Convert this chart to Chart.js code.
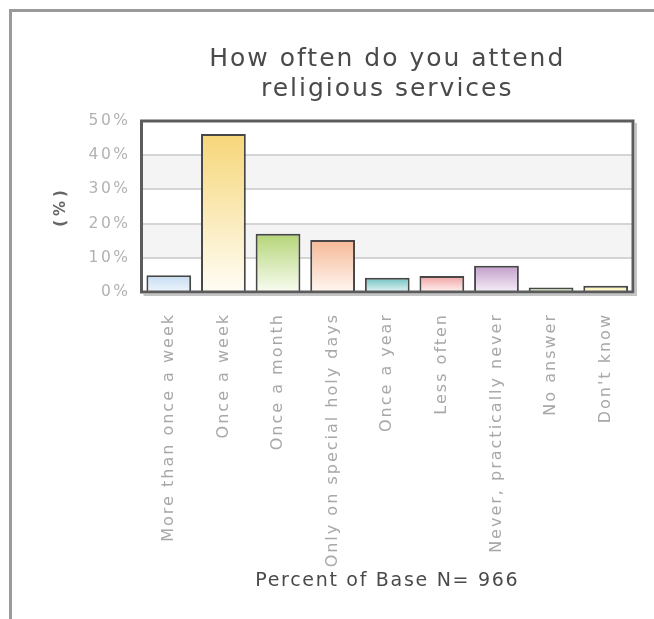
<!DOCTYPE html>
<html>
<head>
<meta charset="utf-8">
<script src="https://cdn.jsdelivr.net/npm/chart.js@4.4.1/dist/chart.umd.min.js"></script>
<style>
  html, body { margin: 0; padding: 0; background: #fff; overflow: hidden; }
  #frame { position: absolute; left: 9px; top: 9px; width: 700px; height: 700px;
           border-top: 3px solid #9a9a9a; border-left: 3px solid #9a9a9a; }
  #wrap { position: absolute; left: 0; top: 0; width: 654px; height: 619px; }
</style>
</head>
<body>
<div id="frame"></div>
<div id="wrap"><canvas id="c" width="654" height="619"></canvas></div>
<script>
const titleLines = ["How often do you attend", "religious services"];
const caption = "Percent of Base N= 966";
const yAxisTitle = "(%)";
const categories = [
  "More than once a week", "Once a week", "Once a month", "Only on special holy days",
  "Once a year", "Less often", "Never, practically never", "No answer", "Don't know"
];
const values = [4.9, 46.2, 17.0, 15.2, 4.2, 4.7, 7.7, 1.3, 1.8];
const yTicks = [0, 10, 20, 30, 40, 50];
const topColors = ["#c4dcf2", "#f6d678", "#b4d576", "#f6b996", "#6ec0c0", "#f0a0a0", "#c39ccb", "#a8c898", "#f7efa0"];
const bottomColors = ["#eef5fc", "#fffdf5", "#f9fcf2", "#fff6f1", "#e4f4f4", "#fff2f2", "#f5eff7", "#dbe9cf", "#fffbe4"];

const canvas = document.getElementById('c');
const ctx = canvas.getContext('2d');
// letter spacing per font (the reference uses widely spaced glyphs)
const origFill = ctx.fillText.bind(ctx);
ctx.fillText = function(t, x, y, mw) {
  const f = ctx.font;
  let ls = '0px';
  if (f.indexOf('bold') >= 0 && f.indexOf('15px') >= 0) ls = '4px';
  else if (f.indexOf('25px') >= 0) ls = '2px';
  else if (f.indexOf('19px') >= 0) ls = '1.7px';
  else if (f.indexOf('16px') >= 0) ls = '2px';
  else if (f.indexOf('15.5px') >= 0) ls = '2.5px';
  ctx.letterSpacing = ls;
  if (mw !== undefined) origFill(t, x, y, mw); else origFill(t, x, y);
  ctx.letterSpacing = '0px';
};

const bandsPlugin = {
  id: 'bands',
  beforeDraw(chart) {
    const {ctx, chartArea: a, scales: {y}} = chart;
    ctx.save();
    ctx.fillStyle = '#ffffff';
    ctx.fillRect(a.left, a.top, a.right - a.left, a.bottom - a.top);
    ctx.fillStyle = '#f4f4f4';
    for (let i = 0; i < yTicks.length - 1; i++) {
      if (i % 2 === 1) {
        const p1 = y.getPixelForValue(yTicks[i]);
        const p2 = y.getPixelForValue(yTicks[i + 1]);
        ctx.fillRect(a.left, p2, a.right - a.left, p1 - p2);
      }
    }
    ctx.restore();
  }
};

const framePlugin = {
  id: 'frame',
  afterDatasetsDraw(chart) {
    const {ctx, chartArea: a} = chart;
    ctx.save();
    ctx.strokeStyle = '#c4c4c4';
    ctx.lineWidth = 2;
    ctx.beginPath();
    ctx.moveTo(a.left + 2, a.bottom + 3);
    ctx.lineTo(a.right + 3, a.bottom + 3);
    ctx.lineTo(a.right + 3, a.top + 2);
    ctx.stroke();
    ctx.strokeStyle = '#5c5c5c';
    ctx.lineWidth = 3;
    ctx.strokeRect(a.left, a.top, a.right - a.left, a.bottom - a.top);
    ctx.restore();
  }
};

function barGradient(c) {
  const i = c.dataIndex;
  if (i === undefined) return topColors[0];
  const chart = c.chart;
  const y = chart.scales.y;
  if (!chart.chartArea || !y) return topColors[i];
  const t = y.getPixelForValue(values[i]);
  const b = y.getPixelForValue(0);
  if (!isFinite(t) || !isFinite(b) || t === b) return topColors[i];
  const g = chart.ctx.createLinearGradient(0, t, 0, b);
  g.addColorStop(0, topColors[i]);
  g.addColorStop(1, bottomColors[i]);
  return g;
}

new Chart(ctx, {
  type: 'bar',
  data: {
    labels: categories,
    datasets: [{
      data: values,
      backgroundColor: barGradient,
      borderColor: '#474747',
      borderWidth: 2,
      borderSkipped: 'bottom',
      barPercentage: 0.82,
      categoryPercentage: 1.0
    }]
  },
  options: {
    responsive: false,
    animation: false,
    devicePixelRatio: 1,
    layout: { padding: { top: 0, left: 52, right: 21, bottom: 0 } },
    plugins: {
      legend: { display: false },
      tooltip: { enabled: false },
      title: {
        display: true,
        text: titleLines,
        fullSize: false,
        color: '#4a4a4a',
        font: { family: 'DejaVu Sans', size: 25, weight: 'normal', lineHeight: 1.2 },
        padding: { top: 44, bottom: 17 }
      }
    },
    scales: {
      x: {
        grid: { display: false },
        border: { display: false },
        ticks: {
          minRotation: 90, maxRotation: 90, autoSkip: false,
          padding: 13,
          color: '#a8a8a8',
          font: { family: 'DejaVu Sans', size: 16 }
        },
        title: {
          display: true, text: caption, color: '#4a4a4a',
          font: { family: 'DejaVu Sans', size: 19, weight: 'normal' },
          padding: { top: 0, bottom: 27 }
        },
        afterFit(s) { s.height = 327; }
      },
      y: {
        min: 0, max: 50,
        afterBuildTicks(s) { s.ticks = yTicks.map(v => ({ value: v })); },
        grid: { color: '#d4d4d4', lineWidth: 2, drawTicks: false },
        border: { display: false },
        ticks: {
          padding: 11,
          color: '#b2b2b2',
          font: { family: 'DejaVu Sans', size: 15.5 },
          callback: v => v + '%'
        },
        title: {
          display: true, text: yAxisTitle, color: '#666666',
          font: { family: 'DejaVu Sans', size: 15, weight: 'bold' },
          padding: { top: 0, bottom: 0 }
        },
        afterFit(s) { s.width = 89.5; }
      }
    }
  },
  plugins: [bandsPlugin, framePlugin]
});
</script>
</body>
</html>
